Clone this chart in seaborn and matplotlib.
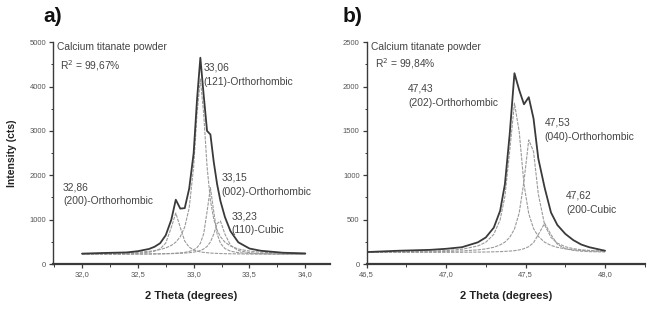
import numpy as np
import matplotlib
matplotlib.use("Agg")
import matplotlib.pyplot as plt
import seaborn as sns
from matplotlib.ticker import MultipleLocator, FuncFormatter

# --- panel a) data (2 theta 32-34 deg)
xa = [32.0, 32.2, 32.4, 32.5, 32.6, 32.65, 32.7, 32.75, 32.8, 32.84, 32.88, 32.92, 32.96, 33.0,
      33.03, 33.06, 33.09, 33.12, 33.15, 33.18, 33.21, 33.24, 33.28, 33.33, 33.4, 33.5, 33.6, 33.8, 34.0]
total_a = [235, 250, 262, 290, 340, 390, 470, 650, 1000, 1450, 1250, 1260, 1700, 2500,
           3700, 4650, 3800, 3000, 2920, 2300, 1800, 1420, 1060, 740, 490, 350, 300, 255, 240]
peak_a_3286 = [224, 227, 234, 244, 266, 292, 344, 473, 828, 1150, 828, 518, 381, 318,
               292, 275, 263, 255, 248, 244, 240, 237, 234, 232, 229, 226, 225, 223, 222]
peak_a_3306 = [233, 239, 252, 265, 286, 303, 327, 363, 420, 494, 615, 833, 1265, 2195,
               3380, 4170, 3380, 2195, 1435, 1010, 765, 615, 494, 406, 339, 292, 268, 246, 236]
peak_a_3315 = [222, 223, 224, 226, 228, 230, 232, 235, 239, 245, 252, 264, 284, 320,
               370, 468, 682, 1180, 1720, 1180, 682, 468, 350, 291, 257, 239, 232, 226, 223]
peak_a_3323 = [222, 223, 224, 225, 227, 228, 230, 232, 235, 238, 242, 248, 256, 269,
               284, 305, 340, 397, 497, 675, 913, 969, 675, 424, 305, 256, 240, 228, 225]

# --- panel b) data (2 theta 46.5-48 deg)
xb = [46.5, 46.7, 46.9, 47.0, 47.1, 47.2, 47.25, 47.3, 47.34, 47.37, 47.4, 47.43, 47.46,
      47.49, 47.52, 47.55, 47.58, 47.62, 47.66, 47.7, 47.75, 47.8, 47.85, 47.9, 48.0]
total_b = [135, 150, 160, 172, 190, 245, 300, 410, 600, 900, 1460, 2150, 1960,
           1800, 1880, 1640, 1190, 860, 580, 440, 340, 270, 220, 190, 150]
peak_b_4743 = [135, 138, 145, 152, 167, 204, 246, 335, 499, 762, 1271, 1813, 1490,
               899, 567, 400, 311, 246, 210, 188, 172, 161, 154, 149, 143]
peak_b_4753 = [133, 135, 138, 142, 148, 160, 171, 189, 216, 247, 300, 394, 576,
               935, 1399, 1268, 790, 441, 300, 235, 195, 174, 161, 154, 145]
peak_b_4762 = [131, 131, 132, 132, 133, 135, 136, 138, 140, 143, 146, 151, 159,
               173, 196, 241, 331, 460, 331, 223, 173, 154, 145, 140, 136]

labels_a = ["32,86\n(200)-Orthorhombic", "33,06\n(121)-Orthorhombic",
            "33,15\n(002)-Orthorhombic", "33,23\n(110)-Cubic"]
labels_b = ["47,43\n(202)-Orthorhombic", "47,53\n(040)-Orthorhombic", "47,62\n(200-Cubic"]

sns.set_style("ticks")
plt.rcParams['font.family'] = ['Liberation Sans', 'DejaVu Sans']

fig = plt.figure(figsize=(6.5, 3.17), dpi=100)
ax1 = fig.add_axes([0.0815, 0.167, 0.426, 0.700])
ax2 = fig.add_axes([0.564, 0.167, 0.428, 0.700])

dark = "#3a3a3a"
grey = "#9a9a9a"
comma = FuncFormatter(lambda v, p: f"{v:.1f}".replace(".", ","))

# components (grey, dashed) then measured/total curve
for ys in [peak_a_3286, peak_a_3306, peak_a_3315, peak_a_3323]:
    sns.lineplot(x=xa, y=ys, ax=ax1, color=grey, lw=0.8, ls=(0, (3, 1)))
sns.lineplot(x=xa, y=total_a, ax=ax1, color=dark, lw=1.3)
for ys in [peak_b_4743, peak_b_4753, peak_b_4762]:
    sns.lineplot(x=xb, y=ys, ax=ax2, color=grey, lw=0.8, ls=(0, (3, 1)))
sns.lineplot(x=xb, y=total_b, ax=ax2, color=dark, lw=1.3)

ax1.set_xlim(31.74, 34.22)
ax1.set_ylim(0, 5000)
ax2.set_xlim(46.5, 48.25)
ax2.set_ylim(0, 2500)

for ax, ymaj, ymin in [(ax1, 1000, 500), (ax2, 500, 250)]:
    ax.xaxis.set_major_locator(MultipleLocator(0.5))
    ax.xaxis.set_minor_locator(MultipleLocator(0.25))
    ax.yaxis.set_major_locator(MultipleLocator(ymaj))
    ax.yaxis.set_minor_locator(MultipleLocator(ymin))
    ax.xaxis.set_major_formatter(comma)
    ax.tick_params(which="major", length=3, width=0.9, color=dark, labelsize=5.5, labelcolor="#555555", pad=2)
    ax.tick_params(which="minor", length=1.8, width=0.7, color=dark)
    sns.despine(ax=ax)
    ax.spines["left"].set_color(dark)
    ax.spines["bottom"].set_color(dark)
    ax.spines["left"].set_linewidth(1.0)
    ax.spines["bottom"].set_linewidth(1.6)
    ax.set_xlabel("2 Theta (degrees)", fontsize=8, fontweight="bold", color="#222222", labelpad=9)
    ax.set_ylabel("")

ax1.set_ylabel("Intensity (cts)", fontsize=7.5, fontweight="bold", color="#222222", labelpad=9)

tcol = "#444444"
fs = 7.4
ax1.text(31.78, 4900, "Calcium titanate powder", fontsize=fs, color=tcol, va="center")
ax1.text(31.80, 4470, "R$^2$ = 99,67%", fontsize=fs, color=tcol, va="center")
ax1.text(31.83, 1570, labels_a[0], fontsize=fs, color=tcol, va="center", linespacing=1.5)
ax1.text(33.085, 4270, labels_a[1], fontsize=fs, color=tcol, va="center", linespacing=1.5)
ax1.text(33.25, 1790, labels_a[2], fontsize=fs, color=tcol, va="center", linespacing=1.5)
ax1.text(33.34, 925, labels_a[3], fontsize=fs, color=tcol, va="center", linespacing=1.5)

ax2.text(46.53, 2440, "Calcium titanate powder", fontsize=fs, color=tcol, va="center")
ax2.text(46.55, 2260, "R$^2$ = 99,84%", fontsize=fs, color=tcol, va="center")
ax2.text(46.76, 1895, labels_b[0], fontsize=fs, color=tcol, va="center", linespacing=1.5)
ax2.text(47.62, 1515, labels_b[1], fontsize=fs, color=tcol, va="center", linespacing=1.5)
ax2.text(47.755, 690, labels_b[2], fontsize=fs, color=tcol, va="center", linespacing=1.5)

fig.text(43 / 650, 1 - 16 / 317, "a)", fontsize=15, fontweight="bold", va="center", color="#111111")
fig.text(343 / 650, 1 - 16 / 317, "b)", fontsize=15, fontweight="bold", va="center", color="#111111")

fig.savefig("out.png", dpi=100)
